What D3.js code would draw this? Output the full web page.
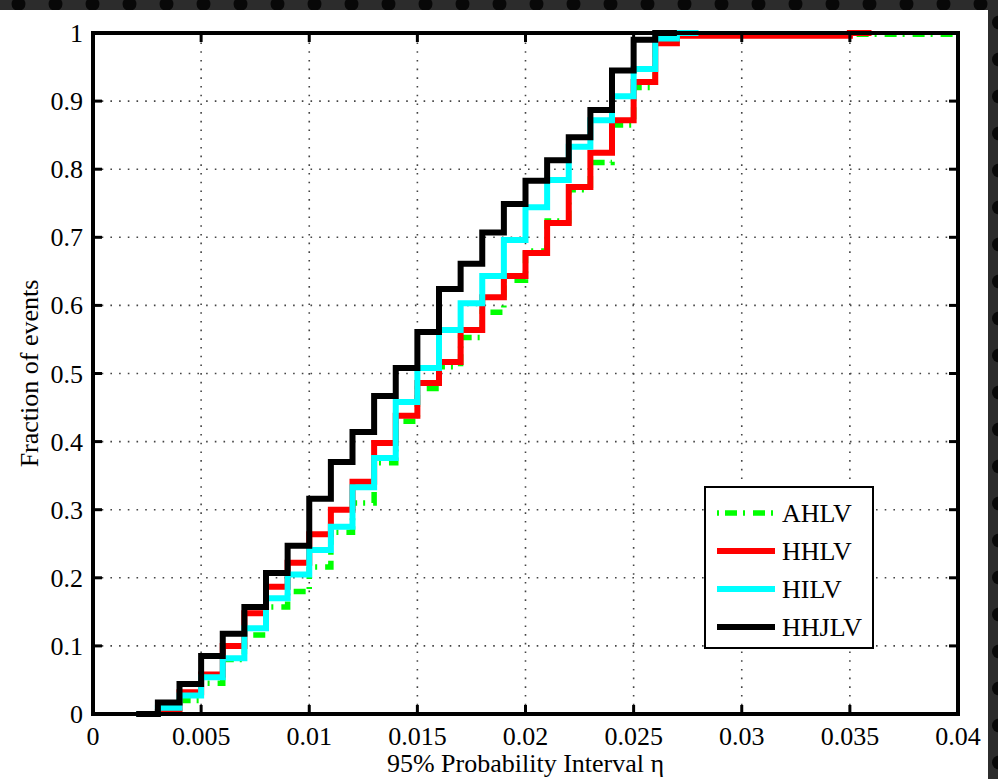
<!DOCTYPE html>
<html><head><meta charset="utf-8">
<script src="https://cdn.jsdelivr.net/npm/d3@7"></script>
<style>html,body{margin:0;padding:0;background:#fff;}svg{display:block;}svg text{font-family:"Liberation Serif","Times New Roman",serif;}</style>
</head><body>
<script>
// ---- data ----
const seriesNames = ["AHLV", "HHLV", "HILV", "HHJLV"];
const seriesColors = ["#00ff00", "#ff0000", "#00ffff", "#000000"];
const xTicks = [0, 0.005, 0.01, 0.015, 0.02, 0.025, 0.03, 0.035, 0.04];
const xTickLabels = ["0", "0.005", "0.01", "0.015", "0.02", "0.025", "0.03", "0.035", "0.04"];
const yTicks = [0, 0.1, 0.2, 0.3, 0.4, 0.5, 0.6, 0.7, 0.8, 0.9, 1];
const yTickLabels = ["0", "0.1", "0.2", "0.3", "0.4", "0.5", "0.6", "0.7", "0.8", "0.9", "1"];

const ahlvX = [0.002,0.003,0.004,0.005,0.006,0.007,0.008,0.009,0.010,0.011,0.012,0.013,0.014,0.015,0.016,0.017,0.018,0.019,0.020,0.021,0.022,0.023,0.024,0.025,0.026,0.027,0.040];
const ahlvY = [0,0.003,0.02,0.045,0.08,0.116,0.157,0.18,0.216,0.267,0.31,0.369,0.43,0.478,0.51,0.553,0.59,0.637,0.68,0.724,0.77,0.81,0.865,0.92,0.99,0.998,0.998];
const hhlvX = [0.002,0.003,0.004,0.005,0.006,0.007,0.008,0.009,0.010,0.011,0.012,0.013,0.014,0.015,0.016,0.017,0.018,0.019,0.020,0.021,0.022,0.023,0.024,0.025,0.026,0.027,0.035,0.036];
const hhlvY = [0,0.003,0.032,0.058,0.1,0.148,0.187,0.222,0.264,0.3,0.341,0.398,0.438,0.486,0.517,0.564,0.612,0.643,0.677,0.721,0.774,0.824,0.872,0.928,0.985,0.996,1,1];
const hilvX = [0.002,0.003,0.004,0.005,0.006,0.007,0.008,0.009,0.010,0.011,0.012,0.013,0.014,0.015,0.016,0.017,0.018,0.019,0.020,0.021,0.022,0.023,0.024,0.025,0.026,0.027,0.028];
const hilvY = [0,0.009,0.027,0.054,0.082,0.126,0.17,0.205,0.241,0.275,0.333,0.376,0.458,0.508,0.564,0.603,0.643,0.696,0.744,0.784,0.833,0.872,0.907,0.947,0.992,1,1];
const hhjlvX = [0.002,0.003,0.004,0.005,0.006,0.007,0.008,0.009,0.010,0.011,0.012,0.013,0.014,0.015,0.016,0.017,0.018,0.019,0.020,0.021,0.022,0.023,0.024,0.025,0.026,0.027];
const hhjlvY = [0,0.017,0.044,0.085,0.118,0.157,0.207,0.247,0.316,0.37,0.414,0.467,0.508,0.561,0.624,0.661,0.707,0.749,0.783,0.813,0.847,0.887,0.945,0.99,1,1];

const seriesX = [ahlvX, hhlvX, hilvX, hhjlvX];
const seriesY = [ahlvY, hhlvY, hilvY, hhjlvY];

// ---- drawing ----
const W = 998, H = 779;
const svg = d3.select("body").append("svg").attr("width", W).attr("height", H);
const defs = svg.append("defs");
const pat = defs.append("pattern").attr("id", "bgpat").attr("patternUnits", "userSpaceOnUse")
  .attr("width", 37).attr("height", 37);
pat.append("rect").attr("width", 37).attr("height", 37).attr("fill", "#2c2c2c");
pat.append("circle").attr("cx", 18.5).attr("cy", 4).attr("r", 7).attr("fill", "#080808");
pat.append("circle").attr("cx", 0).attr("cy", 22.5).attr("r", 7).attr("fill", "#080808");
pat.append("circle").attr("cx", 37).attr("cy", 22.5).attr("r", 7).attr("fill", "#080808");
svg.append("rect").attr("width", W).attr("height", H).attr("fill", "url(#bgpat)");
svg.append("rect").attr("x", 0).attr("y", 10).attr("width", 988).attr("height", H - 10).attr("fill", "#fff");

const x = d3.scaleLinear().domain([0, 0.04]).range([93, 958]);
const y = d3.scaleLinear().domain([0, 1]).range([714, 33]);

// grid
const grid = svg.append("g").attr("stroke", "#444").attr("stroke-width", 1.6).attr("stroke-dasharray", "1.6,7.1");
xTicks.slice(1, -1).forEach(t => grid.append("line").attr("x1", x(t)).attr("x2", x(t)).attr("y1", y(0)).attr("y2", y(1)));
yTicks.slice(1, -1).forEach(t => grid.append("line").attr("x1", x(0)).attr("x2", x(0.04)).attr("y1", y(t)).attr("y2", y(t)));

// series
const line = d3.line().curve(d3.curveStepAfter);
seriesNames.forEach((name, i) => {
  const pts = seriesX[i].map((v, j) => [x(v), y(seriesY[i][j])]);
  const p = svg.append("path").attr("d", line(pts)).attr("fill", "none")
    .attr("stroke", seriesColors[i]).attr("stroke-width", 6).attr("stroke-linejoin", "miter");
  if (i === 0) p.attr("stroke-dasharray", "12,6,2,8").attr("stroke-width", 5.5);
});

// axes frame
const axG = svg.append("g");
axG.append("rect").attr("x", x(0)).attr("y", y(1)).attr("width", x(0.04) - x(0)).attr("height", y(0) - y(1))
  .attr("fill", "none").attr("stroke", "#000").attr("stroke-width", 4);
const tk = axG.append("g").attr("stroke", "#000").attr("stroke-width", 3);
xTicks.forEach(t => {
  tk.append("line").attr("x1", x(t)).attr("x2", x(t)).attr("y1", y(0)).attr("y2", y(0) - 9);
  tk.append("line").attr("x1", x(t)).attr("x2", x(t)).attr("y1", y(1)).attr("y2", y(1) + 9);
});
yTicks.forEach(t => {
  tk.append("line").attr("x1", x(0)).attr("x2", x(0) + 9).attr("y1", y(t)).attr("y2", y(t));
  tk.append("line").attr("x1", x(0.04)).attr("x2", x(0.04) - 9).attr("y1", y(t)).attr("y2", y(t));
});

// tick labels
const lab = svg.append("g").attr("font-size", 26).attr("fill", "#000");
xTicks.forEach((t, i) => lab.append("text").attr("x", x(t)).attr("y", y(0) + 31).attr("text-anchor", "middle").text(xTickLabels[i]));
yTicks.forEach((t, i) => lab.append("text").attr("x", x(0) - 10).attr("y", y(t) + 9).attr("text-anchor", "end").text(yTickLabels[i]));

// axis titles
svg.append("text").attr("x", x(0.02)).attr("y", 772).attr("text-anchor", "middle")
  .attr("font-size", 26).text("95% Probability Interval η");
svg.append("text").attr("transform", `translate(38,${y(0.5)}) rotate(-90)`).attr("text-anchor", "middle")
  .attr("font-size", 26).text("Fraction of events");

// legend
const lg = svg.append("g");
lg.append("rect").attr("x", 705).attr("y", 487).attr("width", 168).attr("height", 161)
  .attr("fill", "#fff").attr("stroke", "#000").attr("stroke-width", 2);
seriesNames.forEach((name, i) => {
  const ly = 513 + i * 38;
  const l = lg.append("line").attr("x1", 717).attr("x2", 775).attr("y1", ly).attr("y2", ly)
    .attr("stroke", seriesColors[i]).attr("stroke-width", 6);
  if (i === 0) l.attr("stroke-dasharray", "2,6,12,6,2,8,12,6,2").attr("stroke-width", 5.5);
  lg.append("text").attr("x", 782).attr("y", ly + 9).attr("font-size", 26).text(name);
});
</script>
</body></html>
